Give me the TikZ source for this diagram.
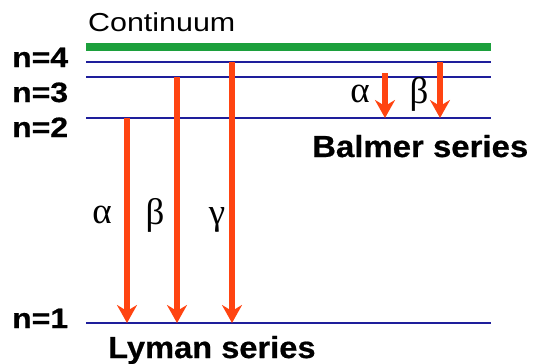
\documentclass[tikz,border=0pt]{standalone}
\usepackage{fontspec}
\setmainfont{Liberation Sans}
\newfontfamily\heavyfont[UprightFont={* Bold}, FakeBold=0.6]{Liberation Sans}
\newfontfamily\greekfont{Liberation Serif}
\usetikzlibrary{arrows.meta}
\definecolor{levelblue}{RGB}{30,30,155}
\definecolor{contgreen}{RGB}{28,160,60}
\definecolor{transred}{RGB}{255,68,17}

\begin{document}
\begin{tikzpicture}[x=1pt,y=-1pt,
  level/.style={levelblue, line width=2.9pt},
  continuum/.style={contgreen, line width=8pt},
  trans/.style={transred, line width=5.5pt,
    -{Stealth[length=18pt,width=20pt,inset=6pt]}},
  lbl/.style={anchor=base west, inner sep=0pt,
    font=\heavyfont\fontsize{28}{28}\selectfont},
  series/.style={anchor=base west, inner sep=0pt,
    font=\heavyfont\fontsize{30.5}{30.5}\selectfont},
  greek/.style={anchor=base, inner sep=0pt,
    font=\greekfont\fontsize{37}{37}\selectfont}]

\useasboundingbox (0,0) rectangle (533,364);

% energy levels
\coordinate (c0) at (86,47);  \coordinate (c1) at (491,47);
\coordinate (e4a) at (86,62); \coordinate (e4b) at (491,62);
\coordinate (e3a) at (86,77); \coordinate (e3b) at (491,77);
\coordinate (e2a) at (86,118);\coordinate (e2b) at (491,118);
\coordinate (e1a) at (86,323);\coordinate (e1b) at (491,323);

\draw[continuum] (c0) -- (c1);
\draw[level] (e4a) -- (e4b);
\draw[level] (e3a) -- (e3b);
\draw[level] (e2a) -- (e2b);
\draw[level] (e1a) -- (e1b);

% level labels
\node[anchor=base west, inner sep=0pt, font=\fontsize{26}{26}\selectfont]
  (cont) at (88,31) {\scalebox{1.17}[1]{Continuum}};
\node[lbl] (n4) at (12,67)  {\scalebox{1.14}[1]{n=4}};
\node[lbl] (n3) at (12,102) {\scalebox{1.14}[1]{n=3}};
\node[lbl] (n2) at (12,137) {\scalebox{1.14}[1]{n=2}};
\node[lbl] (n1) at (12,328) {\scalebox{1.14}[1]{n=1}};

% Lyman transitions
\coordinate (la0) at (127,118); \coordinate (la1) at (127,323);
\coordinate (lb0) at (177,77);  \coordinate (lb1) at (177,323);
\coordinate (lg0) at (232,62);  \coordinate (lg1) at (232,323);
\draw[trans] (la0) -- (la1);
\draw[trans] (lb0) -- (lb1);
\draw[trans] (lg0) -- (lg1);
\node[greek] (lal) at (102,223) {α};
\node[greek] (lbe) at (155,224) {β};
\node[greek] (lga) at (217,224) {γ};
\node[series] (lyman) at (108,358) {\scalebox{1.07}[1]{Lyman series}};

% Balmer transitions
\coordinate (ba0) at (385,73); \coordinate (ba1) at (385,118);
\coordinate (bb0) at (440,62); \coordinate (bb1) at (440,118);
\draw[trans] (ba0) -- (ba1);
\draw[trans] (bb0) -- (bb1);
\node[greek] (bal) at (360,102) {α};
\node[greek] (bbe) at (419,103) {β};
\node[series] (balmer) at (312,157) {\scalebox{1.08}[1]{Balmer series}};
\end{tikzpicture}
\end{document}
